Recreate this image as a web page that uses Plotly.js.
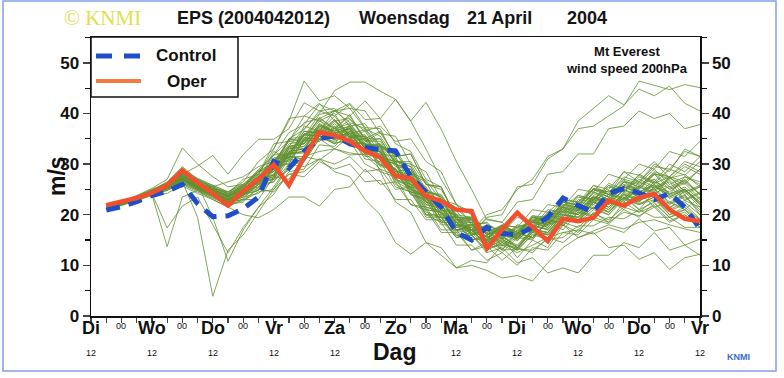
<!DOCTYPE html>
<html><head><meta charset="utf-8">
<script src="https://cdn.plot.ly/plotly-3.0.1.min.js"></script>
<style>html,body{margin:0;padding:0;background:#fff;}#chart{width:784px;height:378px;}</style>
</head><body><div id="chart"></div>
<script>
// hours after Di 12 UTC (2004-04-20 12)
const hours = [6,12,18,24,30,36,42,48,54,60,66,72,78,84,90,96,102,108,114,120,126,132,138,144,150,156,162,168,174,180,186,192,198,204,210,216,222,228,234,240];
const control = [20.9,21.6,22.6,23.8,24.6,26.0,22.2,19.6,19.8,21.2,23.5,30.5,29.2,32.5,35.0,35.6,34.0,33.3,32.9,32.6,27.5,24.5,21.5,16.5,15.0,17.5,16.3,16.0,17.5,19.5,23.3,21.8,20.5,24.2,25.2,24.3,23.0,24.2,21.5,17.2];
const oper = [21.9,22.5,23.3,24.3,25.8,28.8,26.3,24.2,21.8,24.7,27.0,29.9,25.8,31.3,36.3,35.7,34.5,32.6,31.3,27.6,27.2,23.7,22.7,21.0,20.7,13.3,17.1,20.4,17.7,14.8,19.2,18.7,19.4,22.8,21.8,23.4,24.1,21.0,19.2,18.7];

const m01 = [21.3,22.0,23.0,24.1,25.0,27.0,25.8,24.5,23.0,24.5, 27.5,29.0,33.5,33.0,37.5,36.0,37.2,33.0,32.5,26.0, 24.5,19.5,19.5,15.8,17.0,14.0,16.5,16.0,19.5,18.5, 22.5,21.0,24.5,23.0,26.5,24.5,26.0,23.5,25.0,22.0];
const m02 = [21.6,22.3,23.4,24.6,26.0,28.3,26.5,25.2,23.5,25.5, 26.5,32.5,31.0,37.5,36.5,39.5,35.5,36.5,32.0,31.5, 26.0,25.0,20.0,19.5,15.0,16.0,13.0,16.5,15.5,18.5, 17.0,20.5,19.5,23.0,21.0,24.5,23.5,27.5,26.5,29.0];
const m03 = [21.2,21.9,22.8,23.8,24.2,26.0,24.5,23.2,22.0,22.5, 25.5,26.5,31.0,30.5,35.0,33.0,35.5,32.0,33.5,28.5, 29.0,23.5,23.0,18.0,18.5,14.5,16.0,13.5,16.5,15.5, 19.5,18.5,22.5,20.5,23.5,21.0,22.5,19.5,21.0,19.0];
const m04 = [21.5,22.4,23.5,24.8,26.5,29.5,27.0,25.5,24.2,27.0, 28.0,34.0,34.5,39.5,38.5,40.0,35.0,35.0,28.5,27.5, 22.0,21.0,16.5,16.5,13.0,14.5,12.5,15.5,15.0,19.0, 18.5,22.5,22.0,25.5,24.5,28.0,26.5,30.0,28.5,31.5];
const m05 = [21.4,22.1,23.2,24.0,13.7,23.5,24.8,23.0,21.5,23.2, 26.0,27.0,31.5,31.0,35.5,34.0,35.2,31.5,31.8,27.0, 26.0,21.5,20.8,17.0,18.0,15.2,18.0,17.5,18.8,18.0, 21.2,20.8,23.5,22.0,23.2,22.5,25.2,22.5,23.8,20.5];
const m06 = [21.5,22.2,23.3,24.5,25.5,26.5,19.5,3.9,13.0,16.0, 20.5,25.0,29.5,31.5,36.5,35.0,37.5,33.0,33.5,28.0, 27.0,22.0,21.5,17.5,18.2,15.0,16.5,15.2,18.5,18.0, 21.5,20.0,23.2,22.8,25.5,24.2,25.0,22.2,23.5,21.0];
const m07 = [21.7,22.5,23.6,24.8,25.8,27.8,26.0,19.5,10.8,17.0, 21.5,25.5,29.8,30.5,35.0,34.5,36.0,32.5,32.5,28.2, 27.5,22.5,22.0,17.8,18.0,15.5,17.8,16.5,19.2,18.5, 22.5,22.0,25.2,24.0,25.5,25.0,28.2,25.5,26.8,24.0];
const m08 = [21.3,22.0,23.1,24.2,17.4,21.7,23.5,18.0,12.5,17.5, 21.5,24.0,28.5,29.0,33.8,33.5,36.5,33.8,34.0,30.5, 30.0,25.0,23.5,18.0,17.5,13.5,14.8,13.2,16.8,16.2, 19.5,18.8,21.5,20.0,23.5,22.2,23.5,20.8,22.0,19.2];
const m09 = [21.8,22.6,23.8,25.2,27.0,33.2,30.0,27.5,25.5,26.0, 28.0,29.5,35.0,36.8,40.5,39.5,41.8,37.2,37.0,30.8, 29.5,24.5,23.8,19.5,19.5,16.0,17.5,16.2,19.8,19.5, 23.0,22.5,25.8,25.0,28.5,27.8,30.5,27.2,28.0,25.5];
const m10 = [21.6,22.3,23.5,24.9,26.2,28.0,29.6,31.7,28.0,31.9, 34.9,34.9,37.0,42.1,40.5,41.0,37.5,38.0,33.5,32.5, 27.5,25.5,21.5,20.0,16.2,17.0,14.5,17.0,16.5,19.8, 19.5,23.0,22.5,24.8,23.0,26.5,25.2,26.5,23.0,24.5];
const m11 = [21.4,22.1,23.2,24.5,25.8,27.5,26.0,25.5,26.5,27.5, 29.5,30.5,34.5,34.0,37.5,36.2,37.0,33.5,33.8,29.5, 29.0,24.5,24.0,19.5,19.2,16.0,17.2,15.5,18.0,17.2, 20.0,19.5,22.5,21.5,24.0,22.8,24.2,21.5,22.8,21.5];
const m12 = [21.5,22.3,23.4,24.6,25.6,27.2,25.5,24.5,23.8,25.5, 28.0,33.0,38.5,46.4,42.5,43.5,41.0,40.5,36.0,35.5, 30.0,28.5,23.0,22.0,18.0,18.5,15.5,18.0,17.5,21.0, 20.5,23.8,23.0,26.2,25.0,27.8,26.2,27.5,24.5,25.8];
const m13 = [21.6,22.4,23.5,24.7,25.9,28.0,26.5,25.2,24.0,25.8, 27.5,30.5,33.5,37.0,40.0,44.5,46.2,46.2,44.4,42.8, 38.5,33.0,27.0,22.0,20.0,16.5,17.8,16.5,19.8,19.0, 22.5,22.0,25.2,24.5,26.0,25.2,28.0,25.0,26.2,23.2];
const m14 = [21.4,22.2,23.3,24.4,25.5,27.0,25.2,24.0,22.5,23.8, 26.0,29.0,32.0,36.0,36.5,40.5,39.5,42.5,39.0,42.8, 38.5,42.2,36.9,30.5,25.0,19.0,18.5,15.8,18.5,17.5, 20.8,20.0,23.5,22.2,25.0,23.8,26.5,23.8,25.0,22.5];
const m15 = [21.5,22.2,23.3,24.5,25.5,27.3,25.8,24.2,23.2,24.8, 26.2,30.5,30.5,35.2,34.8,37.5,34.0,34.2,30.0,29.2, 24.0,22.8,18.0,18.0,17.0,20.0,21.0,25.0,27.0,31.5, 33.0,37.0,37.5,39.5,41.5,46.4,45.5,44.7,45.7,45.1];
const m16 = [21.3,22.1,23.1,24.3,25.2,26.8,25.0,23.8,22.8,24.2, 26.5,30.8,31.8,36.5,36.2,38.8,35.5,35.8,31.5,30.5, 25.0,23.5,18.5,18.5,16.0,19.5,20.0,25.5,26.0,31.0, 33.0,38.5,41.0,43.5,41.7,44.8,43.5,45.4,42.0,40.5];
const m17 = [21.6,22.4,23.5,24.7,25.7,27.6,26.2,24.8,23.5,25.2, 27.0,31.0,31.5,35.8,35.5,38.5,35.2,35.5,31.0,30.0, 24.5,23.5,18.8,19.0,16.5,19.2,18.5,22.5,23.0,28.0, 28.5,32.0,32.0,37.0,37.5,40.5,39.0,40.0,37.0,37.8];
const m18 = [21.4,22.0,23.0,24.0,24.8,26.2,24.8,23.5,22.2,23.5, 26.0,26.5,30.0,29.5,31.0,28.5,27.5,23.0,20.0,14.5, 12.2,14.5,12.0,9.5,10.0,9.0,7.5,8.0,6.9,10.5, 13.5,15.5,16.8,18.0,17.2,18.5,19.0,18.0,17.2,16.5];
const m19 = [21.5,22.2,23.2,24.3,25.2,25.7,24.2,23.0,21.5,20.0, 19.4,21.0,23.5,23.5,21.7,25.0,25.5,29.0,26.0,26.5, 22.0,21.5,17.0,17.0,13.0,13.8,11.0,13.5,12.5,15.5, 14.5,17.0,16.2,17.5,16.5,19.2,16.8,17.5,14.0,15.2];
const m20 = [21.4,22.1,23.1,24.2,25.2,26.8,25.5,24.0,22.5,23.8, 26.5,27.5,32.0,32.5,36.0,34.8,36.5,32.5,32.5,27.5, 26.5,21.5,20.5,16.0,16.0,12.5,13.5,10.5,11.5,8.5, 9.5,8.5,12.0,12.0,14.5,13.5,16.5,13.0,14.0,12.0];
const m21 = [21.6,22.3,23.4,24.5,25.6,27.5,25.7,24.3,23.0,24.5, 27.5,28.5,33.0,33.5,37.0,35.5,36.0,32.0,31.5,26.5, 25.0,20.0,19.5,15.5,16.0,13.0,14.5,13.0,16.0,15.2, 18.0,15.5,16.5,13.5,14.0,11.2,12.5,9.2,11.5,12.2];
const m22 = [21.3,22.0,23.0,24.2,25.3,27.8,26.5,25.0,23.8,24.5, 26.5,28.5,32.5,35.5,39.8,40.5,42.0,38.8,39.0,34.0, 32.5,27.0,25.5,19.0,18.5,14.5,15.5,14.0,17.2,16.5, 20.0,19.5,23.0,22.5,25.8,25.0,28.0,27.5,30.5,29.5];
const m23 = [21.5,22.3,23.4,24.6,25.9,28.5,26.8,25.5,24.0,25.5, 28.5,30.0,35.0,35.5,38.8,35.5,35.5,31.0,30.5,25.5, 24.5,20.0,20.0,16.8,17.5,14.5,16.8,15.5,18.0,17.0, 20.5,19.0,22.5,21.0,24.5,23.0,25.5,24.5,27.0,24.0];
const m24 = [21.4,22.1,23.2,24.3,25.1,26.5,25.0,23.8,22.5,23.0, 23.0,27.5,27.0,31.5,30.8,33.0,31.8,32.0,29.8,29.0, 26.5,24.5,21.0,18.5,17.0,14.2,15.8,13.5,17.0,16.5, 20.0,19.5,22.0,20.5,24.0,21.0,24.5,22.0,24.0,20.0];
const m25 = [21.7,22.5,23.7,25.0,26.3,28.8,27.2,25.8,24.5,26.0, 29.0,31.8,36.2,37.8,41.8,40.5,41.0,37.0,35.5,31.0, 28.5,23.0,22.0,17.5,17.0,15.0,16.5,16.8,19.5,19.0, 22.0,21.5,25.8,24.0,28.5,26.5,30.0,28.5,33.0,31.5];
const m26 = [21.2,21.8,22.8,23.9,24.8,26.2,24.8,23.5,22.0,22.8, 24.5,25.0,28.0,28.5,31.0,30.0,31.5,28.5,29.0,25.0, 25.5,21.0,20.5,17.0,17.0,13.5,14.0,12.5,14.0,15.5, 16.5,17.0,19.5,18.5,20.5,19.8,21.5,18.5,20.0,17.5];
const m27 = [21.5,22.2,23.3,24.5,25.7,27.5,26.2,25.0,23.8,25.0, 27.8,28.5,33.2,34.0,38.0,36.5,37.5,34.5,35.0,30.0, 28.5,22.5,21.5,17.0,17.5,15.0,18.0,17.5,21.0,20.5, 23.0,22.5,25.0,24.5,27.0,26.2,29.0,26.0,27.5,26.5];
const m28 = [21.4,22.2,23.2,24.4,25.4,27.2,25.5,24.2,23.0,24.2, 26.0,29.0,31.5,31.0,35.5,34.0,38.0,34.5,36.2,31.5, 32.0,26.0,25.5,19.0,19.0,14.0,15.5,11.5,15.0,13.5, 18.0,16.5,20.5,18.5,22.5,20.5,23.0,21.0,25.0,22.5];
const m29 = [21.6,22.4,23.5,24.6,25.8,27.8,26.0,24.8,23.5,25.2, 28.5,29.5,34.0,34.5,38.5,37.0,38.0,34.0,33.5,28.0, 26.0,21.0,20.5,16.5,17.0,14.0,15.2,13.5,16.5,16.0, 19.5,19.0,22.5,21.0,24.0,22.5,25.5,24.0,25.5,23.0];
const m30 = [21.5,22.3,23.3,24.5,25.5,27.0,25.8,24.5,23.2,24.0, 26.5,27.0,31.5,31.5,35.5,35.0,36.5,33.5,34.0,30.5, 30.5,26.0,25.0,20.0,19.5,16.0,17.5,15.0,17.8,17.0, 20.5,20.0,23.5,23.0,26.5,26.0,27.0,24.0,27.5,26.0];
const m31 = [21.3,22.0,23.1,24.2,25.2,26.8,25.2,24.0,22.8,24.0, 27.0,27.8,32.5,33.0,37.2,35.8,37.0,33.0,32.5,27.0, 25.5,20.5,19.5,15.5,16.5,13.5,15.0,13.8,17.0,16.0, 19.0,18.5,21.0,20.0,23.0,22.0,23.5,20.0,21.0,18.0];
const m32 = [21.6,22.4,23.5,24.8,26.0,28.0,26.5,25.0,23.8,25.5, 28.8,30.0,34.8,35.0,39.0,37.0,39.8,34.5,34.5,30.0, 29.0,24.0,23.0,18.5,18.5,15.5,17.0,15.5,18.8,18.0, 21.5,21.0,24.5,23.5,26.5,25.5,28.5,27.5,30.0,28.5];
const m33 = [21.4,22.1,23.2,24.4,25.4,27.0,25.4,24.0,22.8,24.2, 25.2,30.0,30.8,35.2,35.0,37.5,34.5,34.0,29.5,29.0, 24.5,24.0,19.5,19.5,16.0,17.0,14.0,16.5,15.5,19.0, 18.0,21.0,19.5,23.0,21.8,24.5,21.5,22.5,21.0,23.5];
const m34 = [21.5,22.2,23.3,24.5,25.6,27.5,26.0,24.7,23.4,24.8, 27.5,29.0,33.5,34.2,37.8,36.2,37.0,33.2,32.8,28.0, 27.0,22.0,21.2,17.0,17.8,14.8,16.2,14.8,18.2,17.8, 21.2,20.5,23.8,22.5,25.5,24.2,27.0,24.2,25.0,22.2];
const m35 = [21.5,22.3,23.4,24.7,26.0,28.2,26.8,25.5,24.2,25.8, 26.8,31.8,32.0,36.0,35.5,38.5,36.0,36.8,33.0,33.0, 28.0,26.5,21.0,20.0,16.0,16.5,13.8,16.2,15.5,18.5, 17.8,20.5,20.0,23.5,22.5,25.5,24.5,27.2,26.0,29.0];
const m36 = [21.3,22.0,23.0,24.1,25.0,26.5,25.0,23.8,22.5,23.5, 24.2,27.0,28.8,31.5,32.5,33.0,32.2,31.8,29.0,27.8, 25.2,23.5,19.5,18.0,15.2,15.0,13.0,13.2,13.0,15.2, 15.5,17.8,17.8,19.5,19.2,21.0,19.5,19.5,17.5,17.5];
const m37 = [21.7,22.5,23.6,24.9,26.2,28.5,27.0,25.8,24.5,26.0, 28.5,29.0,34.8,34.5,39.2,37.0,39.5,35.0,36.5,31.5, 32.0,26.0,25.5,19.5,19.2,16.0,17.5,16.0,19.5,19.0, 22.5,21.8,25.0,23.5,26.8,25.5,28.2,27.0,29.5,28.0];
const m38 = [21.4,22.1,23.2,24.3,25.3,26.8,25.3,24.0,22.8,24.0, 24.8,29.5,30.0,34.8,34.5,37.0,34.0,34.2,29.8,29.0, 24.0,23.2,18.5,18.5,15.0,15.8,13.2,15.8,15.2,18.8, 18.2,21.8,21.2,24.0,23.2,25.8,24.8,27.5,24.5,25.5];
const m39 = [21.5,22.3,23.4,24.6,25.7,27.6,26.0,24.6,23.5,25.0, 27.8,28.8,33.5,34.0,37.8,36.5,37.5,33.8,33.5,28.5, 27.5,22.5,22.0,17.8,18.0,14.8,16.5,15.2,18.5,18.2, 21.8,21.2,24.2,23.0,25.5,24.5,25.8,23.2,24.5,21.5];
const m40 = [21.5,22.2,23.2,24.4,25.4,26.8,25.2,23.8,22.5,23.0, 25.0,24.5,28.0,27.5,30.5,29.0,30.0,26.5,26.8,23.0, 23.0,19.0,19.0,15.5,16.0,13.0,14.5,13.0,16.2,15.5, 18.5,17.5,20.2,19.0,21.5,20.5,21.8,18.8,20.0,17.5];
const m41 = [21.6,22.4,23.5,24.8,26.0,28.0,26.5,25.2,24.5,26.5, 30.5,33.0,39.0,39.5,42.0,38.5,39.0,35.0,35.0,30.5, 29.5,24.5,23.5,19.0,19.0,15.5,17.0,15.8,19.0,18.5, 22.0,21.5,25.0,24.0,27.5,26.5,29.5,29.0,32.5,31.5];
const m42 = [21.4,22.1,23.2,24.4,25.5,27.2,25.6,24.2,23.0,24.5, 27.2,28.0,33.0,33.5,37.5,36.5,38.8,36.5,37.5,34.5, 35.0,30.5,28.5,22.0,20.5,16.0,17.0,15.5,18.5,17.5, 20.8,20.0,23.0,22.0,24.8,23.5,26.5,25.2,26.5,24.0];
const m43 = [21.5,22.2,23.3,24.5,25.6,27.0,25.5,24.3,23.0,24.2, 27.0,27.8,32.2,32.5,36.5,35.2,36.2,32.5,32.0,26.8, 25.5,20.0,18.5,14.0,14.0,11.0,12.5,10.0,13.5,13.0, 16.5,16.0,19.0,18.2,21.0,19.5,22.2,19.5,20.5,18.0];
const m44 = [21.6,22.3,23.4,24.6,25.7,27.8,26.2,24.9,23.6,25.2, 26.2,31.2,32.0,36.5,36.0,38.8,35.5,35.5,31.0,30.0, 25.0,24.0,19.5,19.5,16.5,18.0,16.5,19.5,18.5,22.0, 21.5,25.0,24.5,28.0,27.0,30.0,29.0,32.5,31.5,34.5];
const m45 = [21.3,22.0,23.1,24.2,25.2,26.8,25.2,23.8,22.6,23.8, 26.5,27.2,32.0,32.2,36.0,34.8,36.0,32.5,32.5,28.0, 27.5,23.0,22.5,18.5,19.0,16.2,17.8,16.2,19.0,18.0, 21.0,20.0,22.8,21.5,24.2,22.8,24.0,21.0,22.5,20.0];
const m46 = [21.5,22.2,23.3,24.4,25.4,27.0,25.5,24.2,23.0,24.2, 26.8,27.5,32.0,32.5,36.0,34.2,34.5,30.0,28.5,22.5, 20.5,14.5,13.5,9.5,11.0,10.5,14.0,13.5,17.0,16.5, 20.0,19.0,21.5,20.5,23.5,22.0,23.0,20.0,21.5,19.0];
const m47 = [21.4,22.2,23.2,24.4,25.5,27.3,25.8,24.4,23.2,24.6, 25.5,30.5,31.2,35.8,35.5,38.0,35.2,35.5,31.2,30.5, 25.8,25.2,20.8,20.8,17.0,17.8,15.2,17.8,17.0,20.5, 20.0,23.5,22.8,25.8,24.5,27.0,25.5,26.8,24.0,25.5];
const m48 = [21.7,22.5,23.6,24.8,26.1,28.4,26.8,25.4,24.2,25.6, 28.5,31.8,34.6,38.2,39.0,40.5,38.2,37.0,33.5,32.0, 28.5,26.8,22.8,21.2,18.5,18.2,16.6,17.2,18.6,20.0, 21.5,23.8,23.0,25.8,24.5,27.5,26.2,29.0,27.8,30.5];
const m49 = [21.5,22.2,23.3,24.5,25.5,27.2,25.6,24.2,23.0,24.3, 27.0,27.8,32.5,33.0,36.8,35.5,36.8,33.2,33.0,28.5, 28.0,23.5,23.0,19.0,19.5,16.5,18.0,16.5,19.5,18.5, 21.5,20.8,23.5,22.2,25.0,23.5,26.0,23.5,24.8,22.0];
const m50 = [21.4,22.1,23.2,24.3,25.3,27.0,25.4,24.0,22.8,24.0, 24.8,29.5,30.2,34.8,34.5,37.2,34.5,35.0,30.8,30.2, 25.5,24.8,20.2,20.2,16.8,17.8,15.2,17.5,16.5,19.8, 19.0,22.2,21.2,24.0,22.8,25.5,24.2,25.6,22.8,24.2];
const members = [m01,m02,m03,m04,m05,m06,m07,m08,m09,m10,m11,m12,m13,m14,m15,m16,m17,m18,m19,m20,m21,m22,m23,m24,m25,m26,m27,m28,m29,m30,m31,m32,m33,m34,m35,m36,m37,m38,m39,m40,m41,m42,m43,m44,m45,m46,m47,m48,m49,m50];

const dayNames = ['Di','Wo','Do','Vr','Za','Zo','Ma','Di','Wo','Do','Vr'];
const dayHours = [0,24,48,72,96,120,144,168,192,216,240];
const midnightHours = [12,36,60,84,108,132,156,180,204,228];
const twelveHours = [0,24,48,72,96,144,168,192,216,240];
const yTicks = [0,10,20,30,40,50];
const legendNames = ['Control','Oper'];

// plot-area geometry (pixels)
const W=784, H=378, L=91, R=700, T=37, B=316;
const px = v => (v-L)/(R-L);
const py = v => (B-v)/(B-T);
const FONT = 'Liberation Sans, Arial, Helvetica, sans-serif';
const GREEN = 'rgb(98,145,48)', BLUE = '#1f4fc8', RED = '#f2502c';

const traces = [];
members.forEach(m => traces.push({x:hours, y:m, type:'scatter', mode:'lines',
  line:{color:GREEN, width:0.8}, hoverinfo:'skip', showlegend:false}));
traces.push({x:hours, y:control, type:'scatter', mode:'lines', name:legendNames[0],
  line:{color:BLUE, width:5, dash:'14px,9px'}, showlegend:false});
traces.push({x:hours, y:oper, type:'scatter', mode:'lines', name:legendNames[1],
  line:{color:RED, width:4.5}, showlegend:false});
traces.push({x:[0], y:[null], yaxis:'y2', type:'scatter', mode:'lines', showlegend:false, hoverinfo:'skip'});

const ann = [];
dayHours.forEach((h,i) => ann.push({x:h, xref:'x', y:py(328), yref:'paper', text:dayNames[i], showarrow:false,
  font:{family:FONT, size:18, weight:'bold', color:'#111'}, xanchor:'center', yanchor:'middle'}));
twelveHours.forEach(h => ann.push({x:h, xref:'x', y:py(353), yref:'paper', text:'12', showarrow:false,
  font:{family:FONT, size:9, color:'#111'}, xanchor:'center', yanchor:'middle'}));
midnightHours.forEach(h => ann.push({x:h, xref:'x', y:py(326), yref:'paper', text:'00', showarrow:false,
  font:{family:FONT, size:9, color:'#111'}, xanchor:'center', yanchor:'middle'}));

const txt = (x,y,text,size,opts={}) => Object.assign({x:px(x), y:py(y), xref:'paper', yref:'paper', text:text,
  showarrow:false, xanchor:'left', yanchor:'middle', font:{family:FONT, size:size, color:'#111'}}, opts);
const TF = {family:FONT, size:18, weight:'bold', color:'#151515'};

ann.push(txt(62,18,'© KNMI',21,{font:{family:'Liberation Serif, Times New Roman, serif', size:21, color:'#e0e052'}}));
ann.push(txt(175,18,'EPS (2004042012)',18,{font:TF}));
ann.push(txt(357,18,'Woensdag',18,{font:TF}));
ann.push(txt(465,18,'21 April',18,{font:TF}));
ann.push(txt(565,18,'2004',18,{font:TF}));
ann.push(txt(627,60,'Mt Everest<br>wind speed 200hPa',13,{xanchor:'center', align:'center',
  font:{family:FONT, size:13, weight:'bold', color:'#111'}}));
ann.push(txt(57,176,'m/s',23,{xanchor:'center', textangle:-90, font:{family:FONT, size:23, weight:'bold', color:'#111'}}));
ann.push(txt(394,352,'Dag',23,{xanchor:'center', font:{family:FONT, size:23, weight:'bold', color:'#111'}}));
ann.push(txt(738,357,'KNMI',9,{xanchor:'center', font:{family:FONT, size:9, weight:'bold', color:'#3a6bd0'}}));
ann.push(txt(186,56,legendNames[0],17,{xanchor:'center', font:{family:FONT, size:17, weight:'bold', color:'#111'}}));
ann.push(txt(187,81,legendNames[1],17,{xanchor:'center', font:{family:FONT, size:17, weight:'bold', color:'#111'}}));

const shapes = [
  {type:'rect', xref:'paper', yref:'paper', x0:px(L), x1:px(238), y0:py(97), y1:py(T),
   line:{color:'#111', width:1.5}, fillcolor:'#fff', layer:'above'},
  {type:'line', xref:'paper', yref:'paper', x0:px(96), x1:px(141), y0:py(56), y1:py(56),
   line:{color:BLUE, width:5, dash:'16px,12px'}, layer:'above'},
  {type:'line', xref:'paper', yref:'paper', x0:px(96), x1:px(141), y0:py(81), y1:py(81),
   line:{color:'#f57a3e', width:4}, layer:'above'},
  {type:'rect', xref:'paper', yref:'paper', x0:px(3), x1:px(776), y0:py(371), y1:py(1),
   line:{color:'rgb(130,160,230)', width:1.5}, layer:'below'}
];

const yax = {range:[0,55.1], tickvals:yTicks, ticks:'outside', ticklen:7, tickwidth:1.5,
  showline:true, linewidth:1.5, linecolor:'#111', showgrid:false, zeroline:false,
  tickfont:{family:FONT, size:17, weight:'bold', color:'#111'}, fixedrange:true,
  minor:{dtick:5, ticks:'outside', ticklen:5, tickwidth:1.2, tickcolor:'#111', showgrid:false}};

const layout = {
  width:W, height:H, margin:{l:L, r:W-R, t:T, b:H-B, pad:0},
  paper_bgcolor:'#fff', plot_bgcolor:'#fff', showlegend:false, hovermode:false,
  xaxis:{range:[0,240], dtick:6, tick0:0, ticks:'outside', ticklen:5, tickwidth:1.2,
    showticklabels:false, showline:true, mirror:true, linewidth:1.5, linecolor:'#111',
    showgrid:false, zeroline:false, fixedrange:true},
  yaxis:yax,
  yaxis2:Object.assign({}, yax, {overlaying:'y', side:'right', minor:Object.assign({}, yax.minor)}),
  annotations:ann, shapes:shapes
};
Plotly.newPlot('chart', traces, layout, {displayModeBar:false, staticPlot:true});
</script></body></html>
